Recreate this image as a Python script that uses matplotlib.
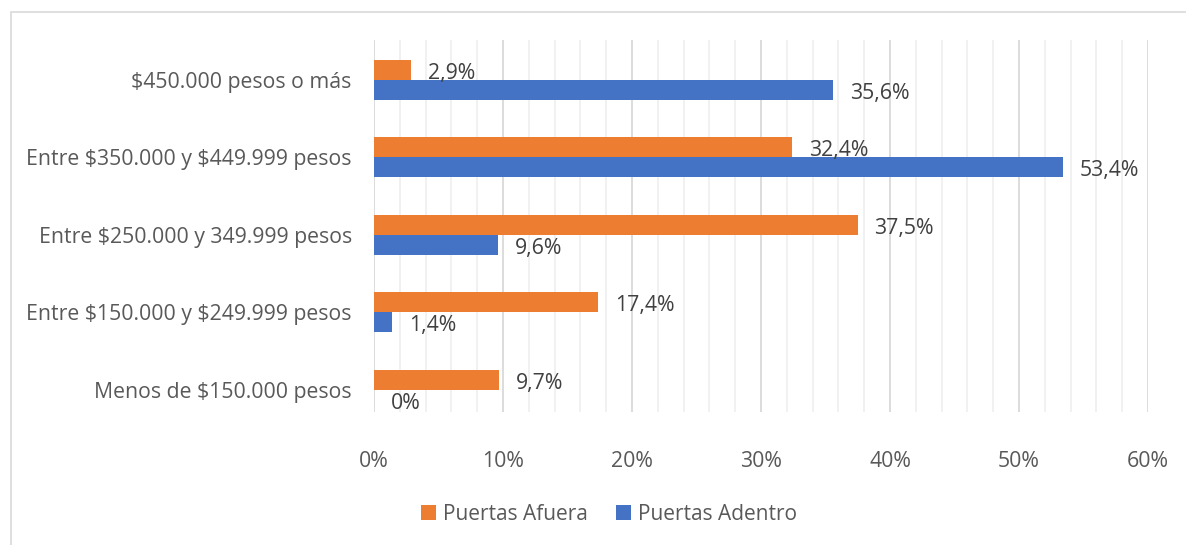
import numpy as np
import matplotlib.pyplot as plt
from matplotlib.patches import Rectangle
from matplotlib.ticker import MultipleLocator, FuncFormatter

categorias = ['$450.000 pesos o más',
              'Entre $350.000 y $449.999 pesos',
              'Entre $250.000 y 349.999 pesos',
              'Entre $150.000 y $249.999 pesos',
              'Menos de $150.000 pesos']
afuera = [2.9, 32.4, 37.5, 17.4, 9.7]
adentro = [35.6, 53.4, 9.6, 1.4, 0.0]
etiquetas_afuera = ['2,9%', '32,4%', '37,5%', '17,4%', '9,7%']
etiquetas_adentro = ['35,6%', '53,4%', '9,6%', '1,4%', '0%']

naranja = '#ED7D31'
azul = '#4472C4'

plt.rcParams['font.family'] = ['Open Sans', 'DejaVu Sans']
plt.rcParams['text.parse_math'] = False

fig = plt.figure(figsize=(11.86, 5.45), dpi=100)
ax = fig.add_axes([374/1186, 1-412/545, (1148-374)/1186, (412-40)/545])

y = np.arange(len(categorias))
h = 0.258
ax.barh(y - h/2, afuera, height=h, color=naranja, label='Puertas Afuera', zorder=3)
ax.barh(y + h/2, adentro, height=h, color=azul, label='Puertas Adentro', zorder=3)

for i in range(len(categorias)):
    ax.annotate(etiquetas_afuera[i], (afuera[i], y[i] - h/2), xytext=(12, -2.5),
                textcoords='offset points', va='center', ha='left',
                fontsize=15.3, color='#404040')
    ax.annotate(etiquetas_adentro[i], (adentro[i], y[i] + h/2), xytext=(12, -2.5),
                textcoords='offset points', va='center', ha='left',
                fontsize=15.3, color='#404040')

ax.set_xlim(0, 60)
ax.set_ylim(4.284, -0.516)
ax.set_yticks(y)
ax.set_yticklabels(categorias)
ax.xaxis.set_major_locator(MultipleLocator(10))
ax.xaxis.set_minor_locator(MultipleLocator(2))
ax.xaxis.set_major_formatter(FuncFormatter(lambda v, p: f'{v:.0f}%'))
ax.grid(axis='x', which='major', color='#D9D9D9', lw=1.3, zorder=0)
ax.grid(axis='x', which='minor', color='#F0F0F0', lw=1.3, zorder=0)
ax.tick_params(axis='both', which='both', length=0, labelsize=15.3, labelcolor='#595959')
ax.tick_params(axis='x', pad=28)
ax.tick_params(axis='y', pad=16)
for s in ax.spines.values():
    s.set_visible(False)

leg = fig.legend(loc='center', bbox_to_anchor=(609/1186, 1-514/545), ncol=2,
                 frameon=False, fontsize=15, handlelength=0.7, handleheight=0.7,
                 handletextpad=0.35, columnspacing=1.35)
for t in leg.get_texts():
    t.set_color('#595959')

fig.patches.append(Rectangle((11/1186, -0.1), 1.2, 1.1 - 12/545, transform=fig.transFigure,
                             fill=False, edgecolor='#D9D9D9', lw=1.2))

fig.savefig('out.png', dpi=100)
